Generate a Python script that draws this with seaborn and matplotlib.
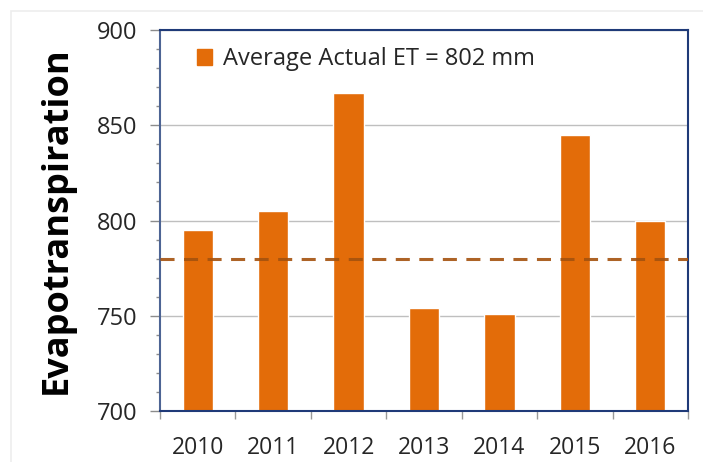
import matplotlib
matplotlib.use("Agg")
import matplotlib.pyplot as plt
import matplotlib.patches as mpatches
from matplotlib.ticker import MultipleLocator, FixedLocator
import pandas as pd
import seaborn as sns

# ---------------------------------------------------------------------------
# Data
# ---------------------------------------------------------------------------
years = ["2010", "2011", "2012", "2013", "2014", "2015", "2016"]
et_values = [795, 805, 867, 754, 751, 845, 800]
dashed_level = 780
legend_label = "Average Actual ET = 802 mm"

BAR_COLOR = "#E36C09"
LINE_COLOR = "#A4520E"
FRAME_COLOR = "#1F3A78"

sns.set_theme(style="white")
plt.rcParams["font.family"] = ["Open Sans", "DejaVu Sans"]

df = pd.DataFrame({"year": years, "et": et_values})

fig = plt.figure(figsize=(7.03, 4.62), dpi=100)
ax = fig.add_axes([160 / 703, 1 - 411 / 462, 528 / 703, 381 / 462])

sns.barplot(data=df, x="year", y="et", color=BAR_COLOR, width=0.4,
            saturation=1, ax=ax, zorder=2)

ax.axhline(dashed_level, color=LINE_COLOR, linestyle=(0, (4.6, 3.1)),
           linewidth=2.2, alpha=0.9, zorder=3)

ax.set_ylim(700, 900)
ax.set_xlim(-0.5, len(years) - 0.5)
ax.yaxis.set_major_locator(MultipleLocator(50))
ax.yaxis.set_minor_locator(MultipleLocator(10))
ax.grid(axis="y", which="major", color="#BFBFBF", linewidth=1.0, zorder=0)
ax.set_axisbelow(True)

# x ticks: labels at centers, tick marks between categories
ax.xaxis.set_minor_locator(FixedLocator([i - 0.5 for i in range(len(years) + 1)]))
ax.tick_params(axis="x", which="major", length=0, pad=18, labelsize=16.5)
ax.tick_params(axis="x", which="minor", bottom=True, length=6, color="#999999", width=1)
ax.tick_params(axis="y", which="major", left=True, length=7, color="#8C8C8C",
               width=1, labelsize=17, pad=9)
ax.tick_params(axis="y", which="minor", left=True, length=3, color="#8C8C8C", width=1)
for lbl in ax.get_xticklabels() + ax.get_yticklabels():
    lbl.set_color("#262626")

for side, spine in ax.spines.items():
    spine.set_visible(True)
    spine.set_color(FRAME_COLOR)
    spine.set_linewidth(1.5)
ax.spines["left"].set_color("#4D6494")

ax.set_xlabel("")
ax.set_ylabel("Evapotranspiration", fontsize=26, fontweight="bold",
              color="black", labelpad=16)

handle = mpatches.Patch(color=BAR_COLOR, label=legend_label)
ax.legend(handles=[handle], loc="upper left", bbox_to_anchor=(0.03, 1.01),
          frameon=False, fontsize=17, handlelength=0.65, handleheight=0.65,
          handletextpad=0.45, labelcolor="#262626")

# light outer border like the source image
fig.patches.append(mpatches.Rectangle((11 / 703, -0.01), 0.99, 1 - 11 / 462 + 0.01,
                                      transform=fig.transFigure, fill=False,
                                      edgecolor="#EDEDED", linewidth=1.2))

fig.savefig("out.png", dpi=100)
